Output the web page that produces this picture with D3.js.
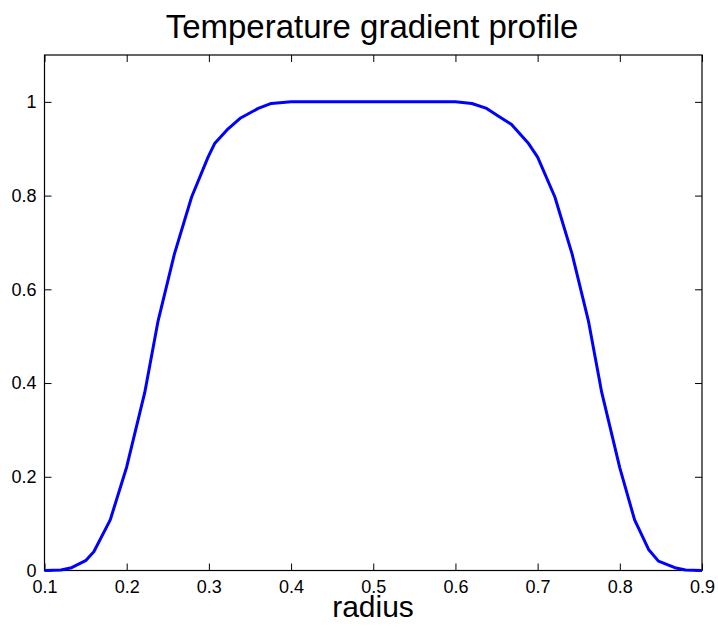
<!DOCTYPE html>
<html><head><meta charset="utf-8">
<script src="https://cdn.jsdelivr.net/npm/d3@7"></script>
<style>body{margin:0;background:#fff;} svg{display:block;} text{font-family:"Liberation Sans",Arial,sans-serif;}</style>
</head><body>
<script>
const radius = [0.1,0.12,0.133,0.15,0.16,0.18,0.2,0.222,0.238,0.258,0.279,0.299,0.307,0.322,0.338,0.36,0.376,0.40,0.45,0.5,0.55,0.6,0.62,0.638,0.652,0.668,0.689,0.70,0.721,0.742,0.762,0.778,0.80,0.818,0.835,0.847,0.867,0.88,0.9];
const gradient = [0,0.001,0.006,0.021,0.04,0.108,0.221,0.38,0.531,0.675,0.797,0.882,0.911,0.94,0.965,0.986,0.9966,1,1,1,1,1,0.9966,0.986,0.97,0.952,0.911,0.882,0.797,0.675,0.531,0.38,0.219,0.108,0.045,0.02,0.006,0.001,0];
const xTicks = [0.1,0.2,0.3,0.4,0.5,0.6,0.7,0.8,0.9];
const yTicks = [0,0.2,0.4,0.6,0.8,1];
const titleText = "Temperature gradient profile";
const xLabel = "radius";

const W = 718, H = 634;
const m = {left:44.5, right:W-702, top:55, bottom:H-570.5};
const svg = d3.select("body").append("svg").attr("width",W).attr("height",H);
const x = d3.scaleLinear().domain([0.1,0.9]).range([m.left, W-m.right]);
const y = d3.scaleLinear().domain([0,1.1]).range([H-m.bottom, m.top]);
const fmt = d => d===0?"0":d===1?"1":String(d);

function style(g){
  g.attr("font-size",18).attr("font-family","Liberation Sans, Arial, sans-serif");
  g.select(".domain").remove();
  g.selectAll(".tick line").attr("stroke","#000").attr("stroke-width",1);
  g.selectAll(".tick text").attr("font-size",18).attr("fill","#000");
}
// bottom
svg.append("g").attr("transform",`translate(0,${y(0)})`)
  .call(d3.axisBottom(x).tickValues(xTicks).tickFormat(fmt).tickSizeInner(-7).tickSizeOuter(0).tickPadding(10))
  .call(style);
// top
svg.append("g").attr("transform",`translate(0,${y(1.1)})`)
  .call(d3.axisTop(x).tickValues(xTicks).tickFormat("").tickSizeInner(-7).tickSizeOuter(0))
  .call(style);
// left
svg.append("g").attr("transform",`translate(${x(0.1)},0)`)
  .call(d3.axisLeft(y).tickValues(yTicks).tickFormat(fmt).tickSizeInner(-7).tickSizeOuter(0).tickPadding(8))
  .call(style);
// right
svg.append("g").attr("transform",`translate(${x(0.9)},0)`)
  .call(d3.axisRight(y).tickValues(yTicks).tickFormat("").tickSizeInner(-7).tickSizeOuter(0))
  .call(style);

svg.append("rect").attr("x",x(0.1)).attr("y",y(1.1)).attr("width",x(0.9)-x(0.1)).attr("height",y(0)-y(1.1))
  .attr("fill","none").attr("stroke","#000").attr("stroke-width",1.2);

const data = radius.map((r,i)=>[r,gradient[i]]);
svg.append("path").datum(data)
  .attr("d", d3.line().x(d=>x(d[0])).y(d=>y(d[1])))
  .attr("fill","none").attr("stroke","#0000ff").attr("stroke-width",3).attr("stroke-linejoin","round");

svg.append("text").attr("x",372).attr("y",38).attr("text-anchor","middle")
  .attr("font-size","33px").attr("fill","#000").text(titleText);
svg.append("text").attr("x",373).attr("y",617).attr("text-anchor","middle")
  .attr("font-size","30px").attr("fill","#000").text(xLabel);
</script>
</body></html>
